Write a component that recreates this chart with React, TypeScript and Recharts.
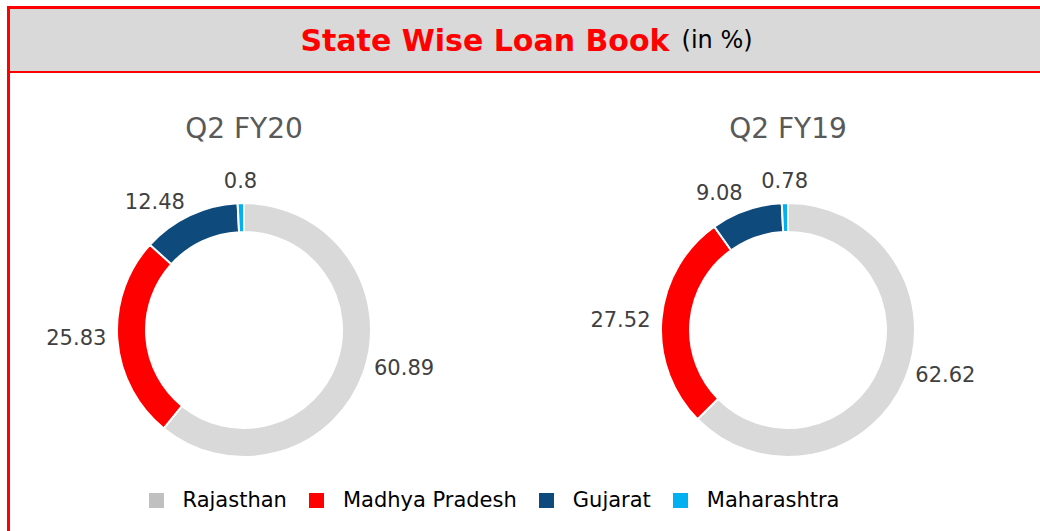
import React from 'react';
import { PieChart, Pie, Cell, Legend } from 'recharts';

const states = ['Rajasthan', 'Madhya Pradesh', 'Gujarat', 'Maharashtra'];
const fy20Values = [60.89, 25.83, 12.48, 0.8];
const fy19Values = [62.62, 27.52, 9.08, 0.78];
const periods = ['Q2 FY20', 'Q2 FY19'];
const sliceColors = ['#d9d9d9', '#ff0000', '#0f4a7c', '#00b0f0'];
const legendColors = ['#c0c0c0', '#ff0000', '#0f4a7c', '#00b0f0'];

const FONT = "'DejaVu Sans', Verdana, sans-serif";
const RAD = Math.PI / 180;

const fy20Data = states.map((name, i) => ({ name, value: fy20Values[i] }));
const fy19Data = states.map((name, i) => ({ name, value: fy19Values[i] }));

// outside label: flatter near the sides, pushed out more above/below the ring
const renderLabel = (props: any) => {
  const { cx, cy, midAngle, outerRadius, value } = props;
  const cos = Math.cos(-midAngle * RAD);
  const sin = Math.sin(-midAngle * RAD);
  const r = outerRadius + 11;
  const x = cx + r * cos;
  const y = cy + r * sin * (0.8 + 0.28 * sin * sin);
  const anchor = cos > 0.15 ? 'start' : cos < -0.15 ? 'end' : 'middle';
  return (
    <text
      x={x}
      y={y}
      textAnchor={anchor}
      dominantBaseline="central"
      fill="#404040"
      fontSize={21}
      fontFamily={FONT}
    >
      {value}
    </text>
  );
};

const renderLegend = () => (
  <div style={{ display: 'flex', justifyContent: 'center', alignItems: 'center', fontFamily: FONT, fontSize: 21, color: '#000' }}>
    {states.map((s, i) => (
      <div key={s} style={{ display: 'flex', alignItems: 'center', marginRight: i < states.length - 1 ? 22 : 0 }}>
        <span style={{ display: 'inline-block', width: 15, height: 15, background: legendColors[i], marginRight: 19 }} />
        <span>{s}</span>
      </div>
    ))}
  </div>
);

const CHART_W = 1030;
const CHART_H = 458;
const CY = 257;
const CX = [234, 778];

export default function App() {
  return (
    <div
      style={{
        position: 'absolute',
        left: 7,
        top: 6,
        width: 1033,
        height: 525,
        borderTop: '3px solid #ff0000',
        borderLeft: '3px solid #ff0000',
        background: '#fff',
        overflow: 'hidden',
        fontFamily: FONT,
      }}
    >
      <div
        style={{
          height: 62,
          background: '#d9d9d9',
          borderBottom: '2px solid #ff0000',
          display: 'flex',
          alignItems: 'center',
          justifyContent: 'center',
        }}
      >
        <span style={{ color: '#ff0000', fontWeight: 'bold', fontSize: 30 }}>State Wise Loan Book</span>
        <span style={{ color: '#000', fontSize: 24, marginLeft: 12 }}>(in %)</span>
      </div>
      <div style={{ position: 'relative', width: CHART_W, height: CHART_H }}>
        {periods.map((p, i) => (
          <div
            key={p}
            style={{
              position: 'absolute',
              left: CX[i] - 100,
              width: 200,
              top: 38,
              textAlign: 'center',
              fontSize: 28,
              color: '#595959',
              lineHeight: '36px',
            }}
          >
            {p}
          </div>
        ))}
        <PieChart width={CHART_W} height={CHART_H} margin={{ top: 0, right: 0, bottom: 0, left: 0 }}>
          <Pie
            data={fy20Data}
            dataKey="value"
            nameKey="name"
            cx={CX[0]}
            cy={CY}
            innerRadius={98}
            outerRadius={127}
            startAngle={90}
            endAngle={-270}
            stroke="#ffffff"
            strokeWidth={2}
            label={renderLabel}
            labelLine={false}
            isAnimationActive={false}
          >
            {fy20Data.map((d, i) => (
              <Cell key={d.name} fill={sliceColors[i]} />
            ))}
          </Pie>
          <Pie
            data={fy19Data}
            dataKey="value"
            nameKey="name"
            cx={CX[1]}
            cy={CY}
            innerRadius={98}
            outerRadius={127}
            startAngle={90}
            endAngle={-270}
            stroke="#ffffff"
            strokeWidth={2}
            label={renderLabel}
            labelLine={false}
            isAnimationActive={false}
          >
            {fy19Data.map((d, i) => (
              <Cell key={d.name} fill={sliceColors[i]} />
            ))}
          </Pie>
          <Legend
            content={renderLegend}
            wrapperStyle={{ left: 0, width: 968, bottom: 19, top: 'auto' }}
          />
        </PieChart>
      </div>
    </div>
  );
}
